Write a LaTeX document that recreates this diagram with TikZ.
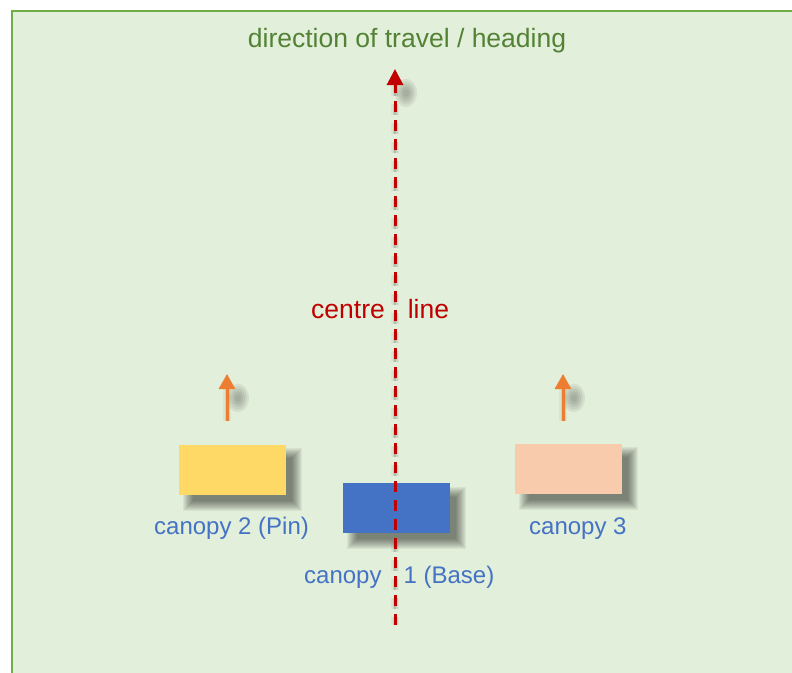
\documentclass[tikz,border=0pt]{standalone}
\usepackage{fontspec}
\setmainfont{Liberation Sans}
\usetikzlibrary{arrows.meta}
\definecolor{bgfill}{HTML}{E2EFDA}
\definecolor{framecol}{HTML}{70AD47}
\definecolor{titlecol}{HTML}{548235}
\definecolor{redcol}{HTML}{C00000}
\definecolor{orangecol}{HTML}{ED7D31}
\definecolor{yellowcol}{HTML}{FFD966}
\definecolor{bluecol}{HTML}{4472C4}
\definecolor{peachcol}{HTML}{F8CBAD}
\pgfdeclarelayer{bottom}
\pgfdeclarelayer{shadowlayer}
\pgfsetlayers{bottom,shadowlayer,main}
\tikzset{
  canopybox/.style={minimum width=107pt, minimum height=50pt, inner sep=0pt, draw=none},
  labeltext/.style={text=bluecol, inner sep=0pt, font=\fontsize{24}{28}\selectfont, anchor=base west},
  centretext/.style={text=redcol, inner sep=0pt, font=\fontsize{26.5}{30}\selectfont, anchor=base west},
  titletext/.style={text=titlecol, inner sep=0pt, font=\fontsize{26.5}{32}\selectfont, anchor=base},
  redline/.style={draw=redcol, line width=3pt, dash pattern=on 11pt off 8pt,
    -{Triangle[width=16pt,length=16pt]}},
  orangearrow/.style={draw=orangecol, line width=3pt, -{Triangle[width=16pt,length=15pt]}},
  shadowA/.style={draw=black, line width=8pt, opacity=0.04},
  shadowB/.style={draw=black, line width=5pt, opacity=0.07},
  shadowC/.style={draw=black, line width=2.5pt, opacity=0.11},
  shadowdash/.style={dash pattern=on 11pt off 8pt},
  softlayer/.style={fill=black, opacity=0.05},
  blobstyle/.style={fill=black, opacity=0.06},
}
% soft shadow of a rectangular node (offset 10,10 ; y downwards)
\newcommand{\softrectshadow}[1]{%
  \foreach \e in {6,5,4,3,2,1,0,-1,-2,-3,-4}{%
    \fill[softlayer] ([shift={(10-\e,10-\e)}]#1.north west) rectangle ([shift={(10+\e,10+\e)}]#1.south east);
  }%
}
% soft elongated blob
\newcommand{\softblob}[1]{%
  \foreach \r in {11,9,7,5,3}{%
    \fill[blobstyle] (#1) ellipse [x radius=\r pt, y radius=1.3*\r pt];
  }%
}
\begin{document}
\begin{tikzpicture}[x=1pt,y=-1pt]
\useasboundingbox (0,0) rectangle (792,672);
\clip (0,0) rectangle (792,672);
\begin{pgfonlayer}{bottom}
\fill[bgfill] (12,11) rectangle (820,700);
\draw[framecol, line width=2.5pt] (820,11) -- (12,11) -- (12,700);
\end{pgfonlayer}

% title
\node[titletext] (title) at (407,47) {direction of travel / heading};

% centre line coordinates
\coordinate (ctop) at (395,69);
\coordinate (cbot) at (395,625);
\coordinate (ctopB) at (395,85);

% orange arrows coordinates
\coordinate (a2s) at (227,421);
\coordinate (a2e) at (227,374);
\coordinate (a3s) at (563,421);
\coordinate (a3e) at (563,374);

% canopies
\node[canopybox, fill=yellowcol] (c2) at (232.5,469.5) {};
\node[canopybox, fill=peachcol] (c3) at (568.5,468.5) {};
\node[canopybox, fill=bluecol] (c1) at (396.5,508) {};

\begin{pgfonlayer}{shadowlayer}
  \softrectshadow{c2}
  \softrectshadow{c3}
  \softrectshadow{c1}
  \begin{scope}[xshift=11pt, yshift=-11pt]
    \draw[shadowA, shadowdash] (ctopB) -- (cbot);
    \draw[shadowB, shadowdash] (ctopB) -- (cbot);
    \draw[shadowC, shadowdash] (ctopB) -- (cbot);
    \softblob{395,82}
    \foreach \s/\e in {a2s/a2e, a3s/a3e}{
      \draw[shadowA] ([yshift=-15pt]\e) -- (\s);
      \draw[shadowB] ([yshift=-15pt]\e) -- (\s);
      \draw[shadowC] ([yshift=-15pt]\e) -- (\s);
    }
    \softblob{227,387}
    \softblob{563,387}
  \end{scope}
\end{pgfonlayer}

% orange arrows
\draw[orangearrow] (a2s) -- (a2e);
\draw[orangearrow] (a3s) -- (a3e);

% centre line (dashed, arrow at top)
\draw[redline] (cbot) -- (ctop);

% labels
\node[centretext] (cl) at (311,318) {centre\hspace{23pt}line};
\node[labeltext] (l2) at (154,534) {canopy 2 (Pin)};
\node[labeltext] (l3) at (529,534) {canopy 3};
\node[labeltext] (l1) at (304,583) {canopy\hspace{22pt}1 (Base)};
\end{tikzpicture}
\end{document}
